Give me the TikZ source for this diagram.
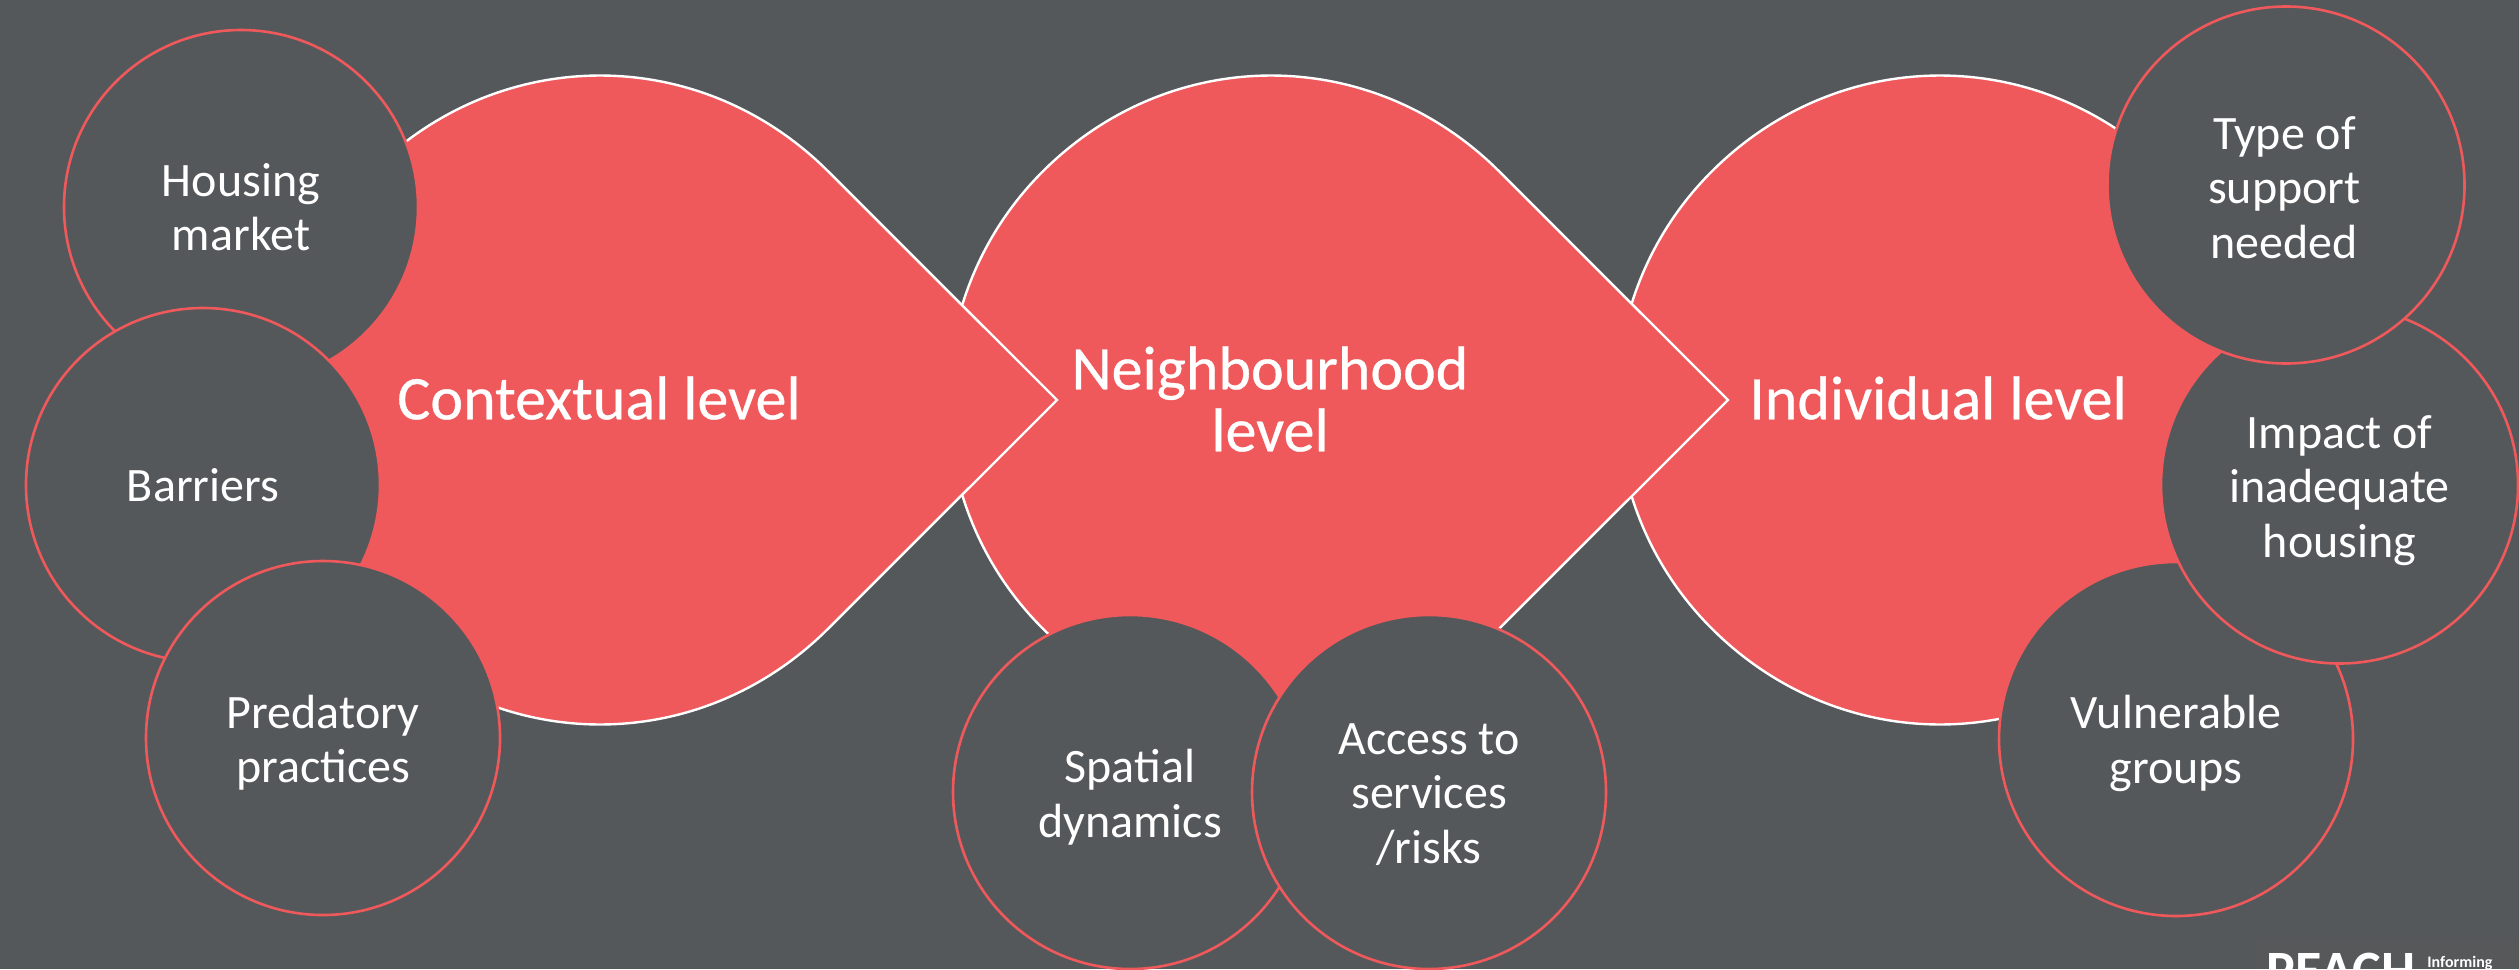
\documentclass[tikz,border=0pt]{standalone}
\usepackage{fontspec}
\setmainfont{Carlito}
\definecolor{bgc}{HTML}{54585A}
\definecolor{coral}{HTML}{F0595B}
\definecolor{logobg}{HTML}{57585A}
\tikzset{
  x=0.5pt,y=-0.5pt,
  tear/.style={fill=coral,draw=white,line width=1.2pt,line join=miter},
  blob/.style={circle,fill=bgc,draw=coral,line width=1.3pt,minimum size=177pt,inner sep=0pt},
  lab/.style={align=center,text=white,inner sep=0pt,font=\fontsize{24}{27.2}\selectfont},
  head/.style={text=white,align=center,inner sep=0pt,font=\fontsize{31}{31}\selectfont\addfontfeature{FakeBold=0.5}},
}
\newcommand{\teardrop}[1]{%
  \path[tear,shift={(#1,400)}] (457,0) -- (228.4,-228.4)
    .. controls (100.3,-356.5) and (-100.3,-356.5) .. (-228.4,-228.4)
    .. controls (-354.5,-102.3) and (-354.5,102.3) .. (-228.4,228.4)
    .. controls (-100.3,356.5) and (100.3,356.5) .. (228.4,228.4) -- cycle;}
\begin{document}
\begin{tikzpicture}
\useasboundingbox (0,0) rectangle (2519,969);
\clip (0,0) rectangle (2519,969);
\fill[bgc] (0,0) rectangle (2519,969);
\teardrop{1940}
\teardrop{1271}
\teardrop{600}
\node[head] (ctx) at (599,398) {Contextual level};
\node[head] (nbh) at (1270,399) {Neighbourhood\\level};
\node[head] (ind) at (1938,398) {Individual level};
\node[blob] (hm) at (241,207) {};
\node[lab] (hmt) at ([yshift=0pt]hm) {Housing\\market};
\node[blob] (ba) at (203,485) {};
\node[lab] (bat) at ([yshift=0pt]ba) {Barriers};
\node[blob] (pr) at (323,738) {};
\node[lab] (prt) at ([yshift=-2.2pt]pr) {Predatory\\practices};
\node[blob] (sp) at (1130,792) {};
\node[lab] (spt) at ([yshift=-2.5pt]sp) {Spatial\\dynamics};
\node[blob] (ac) at (1429,792) {};
\node[lab] (act) at ([yshift=-1.2pt]ac) {Access to\\services\\/risks};
\node[blob] (vu) at (2176,739) {};
\node[lab] (vut) at ([yshift=-2.2pt]vu) {Vulnerable\\groups};
\node[blob,minimum size=178.5pt] (im) at (2339.5,485) {};
\node[lab] (imt) at ([yshift=-2.8pt]im) {Impact of\\inadequate\\housing};
\node[blob,minimum size=178.5pt] (ty) at (2286,185) {};
\node[lab] (tyt) at ([yshift=-1.2pt,xshift=-0.8pt]ty) {Type of\\support\\needed};
\fill[logobg] (2255,942) rectangle (2519,969);
\node[anchor=north west,inner sep=0pt,text=white,font=\fontsize{27}{27}\selectfont\bfseries] (lg) at (2266,953) {PEACH};
\node[anchor=north west,inner sep=0pt,text=white,font=\fontsize{8}{8}\selectfont\bfseries] (lt) at (2427,956) {Informing};
\end{tikzpicture}
\end{document}
